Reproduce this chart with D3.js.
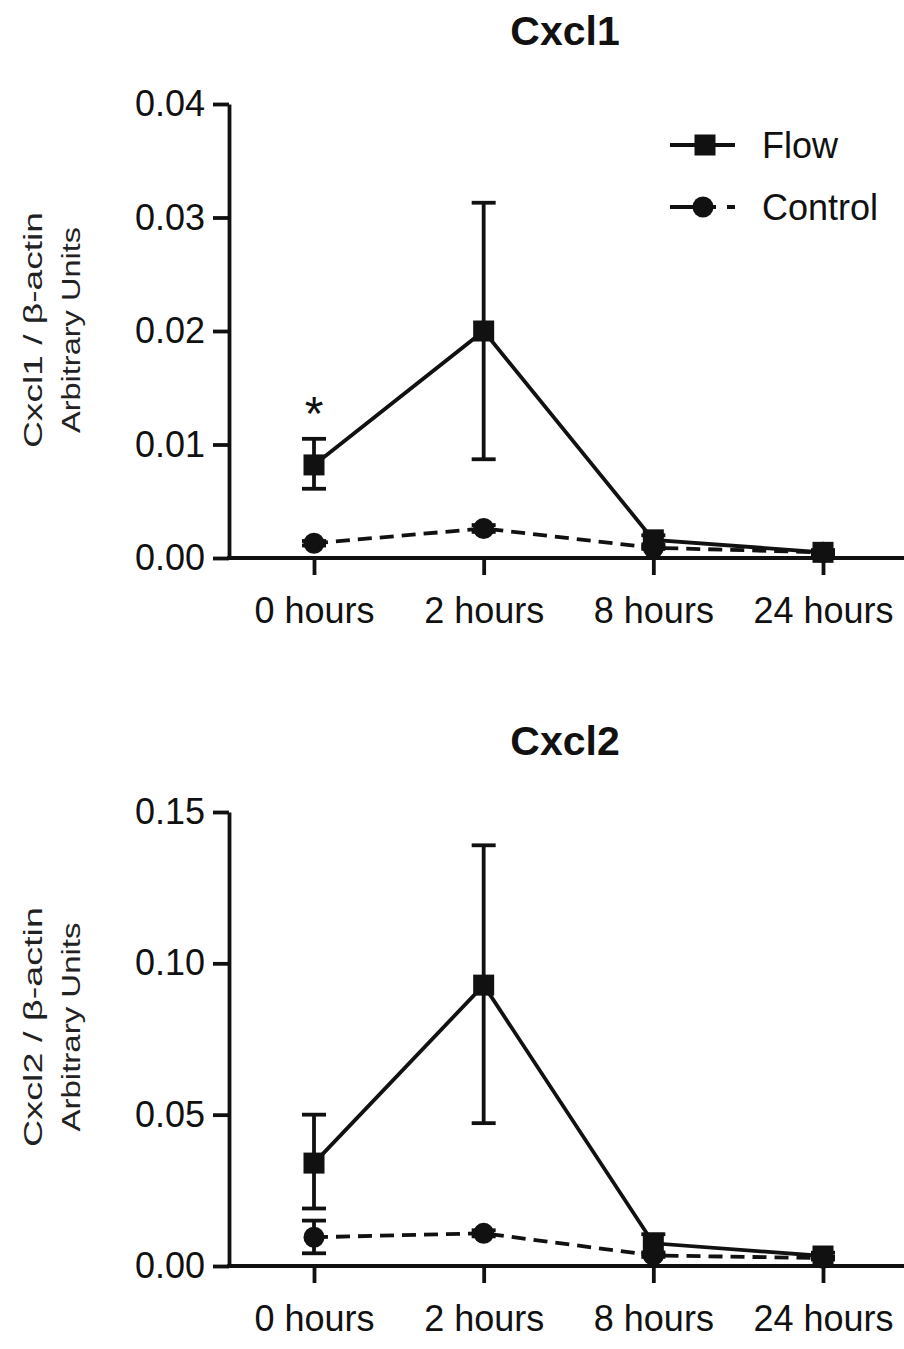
<!DOCTYPE html>
<html>
<head>
<meta charset="utf-8">
<script src="https://cdn.jsdelivr.net/npm/d3@7"></script>
<style>
  body { margin: 0; background: #fff; }
  text { font-family: "Liberation Sans", Arial, sans-serif; fill: #111; }
</style>
</head>
<body>
<div id="chart"></div>
<script>
// categories shared by both panels
const hours = ['0 hours', '2 hours', '8 hours', '24 hours'];

// Cxcl1 panel
const cxcl1Flow = [0.0082, 0.0200, 0.0016, 0.0005];
const cxcl1FlowLo = [0.0061, 0.0087, 0.0012, 0.0003];
const cxcl1FlowHi = [0.0105, 0.0313, 0.0020, 0.0007];
const cxcl1Ctrl = [0.0013, 0.0026, 0.0009, 0.0005];
const cxcl1CtrlLo = [0.0011, 0.0023, 0.0008, 0.0004];
const cxcl1CtrlHi = [0.0015, 0.0029, 0.0010, 0.0006];
const cxcl1Ticks = [0, 0.01, 0.02, 0.03, 0.04];

// Cxcl2 panel
const cxcl2Flow = [0.034, 0.0928, 0.0075, 0.0033];
const cxcl2FlowLo = [0.019, 0.0472, 0.0045, 0.0022];
const cxcl2FlowHi = [0.050, 0.139, 0.0105, 0.0044];
const cxcl2Ctrl = [0.0095, 0.0108, 0.0035, 0.0026];
const cxcl2CtrlLo = [0.0042, 0.0098, 0.0030, 0.0022];
const cxcl2CtrlHi = [0.0150, 0.0118, 0.0040, 0.0030];
const cxcl2Ticks = [0, 0.05, 0.10, 0.15];

const width = 904, height = 1349;
const sw = 3.8; // stroke width used everywhere
const svg = d3.select('#chart').append('svg')
  .attr('width', width)
  .attr('height', height);

const x = d3.scalePoint().domain(hours).range([314, 823]);
const axisLeftX = 229;

function panel(opts) {
  const g = svg.append('g');
  const y = d3.scaleLinear().domain([0, opts.max]).range([opts.bottom, opts.top]);

  // title
  g.append('text')
    .attr('x', 565).attr('y', opts.titleY)
    .attr('text-anchor', 'middle')
    .style('font-size', '41px').style('font-weight', 'bold')
    .text(opts.title);

  // y axis label, two lines
  g.append('text')
    .attr('transform', `translate(42,${opts.labelY}) rotate(-90)`)
    .attr('text-anchor', 'middle')
    .attr('textLength', opts.len1).attr('lengthAdjust', 'spacingAndGlyphs')
    .style('font-size', '25px').style('fill', '#222')
    .text(opts.title + ' / β-actin');
  g.append('text')
    .attr('transform', `translate(80,${opts.labelY}) rotate(-90)`)
    .attr('text-anchor', 'middle')
    .attr('textLength', opts.len2).attr('lengthAdjust', 'spacingAndGlyphs')
    .style('font-size', '25px').style('fill', '#222')
    .text('Arbitrary Units');

  // y axis
  const yAxis = g.append('g')
    .attr('transform', `translate(${axisLeftX},0)`)
    .call(d3.axisLeft(y).tickValues(opts.ticks).tickFormat(d3.format('.2f'))
      .tickSize(16).tickSizeOuter(0).tickPadding(8));
  yAxis.selectAll('path, line').attr('stroke', '#111').attr('stroke-width', sw);
  yAxis.selectAll('text').style('font-size', '36px').style('font-family', '"Liberation Sans", Arial, sans-serif').attr('fill', '#1a1a1a');

  // x axis
  g.append('line')
    .attr('x1', axisLeftX - sw / 2).attr('x2', width)
    .attr('y1', opts.bottom).attr('y2', opts.bottom)
    .attr('stroke', '#111').attr('stroke-width', sw);
  const xAxis = g.append('g')
    .attr('transform', `translate(0,${opts.bottom})`)
    .call(d3.axisBottom(x).tickSize(17).tickPadding(22));
  xAxis.select('.domain').remove();
  xAxis.selectAll('line').attr('stroke', '#111').attr('stroke-width', sw);
  xAxis.selectAll('text').style('font-size', '36px').style('font-family', '"Liberation Sans", Arial, sans-serif').attr('fill', '#1a1a1a');

  const line = d3.line().x((d, i) => x(hours[i])).y(d => y(d));

  // control (dashed)
  g.append('path').datum(opts.ctrl)
    .attr('d', line).attr('fill', 'none')
    .attr('stroke', '#111').attr('stroke-width', sw)
    .attr('stroke-dasharray', '14,8');
  // flow (solid)
  g.append('path').datum(opts.flow)
    .attr('d', line).attr('fill', 'none')
    .attr('stroke', '#111').attr('stroke-width', sw);

  // error bars
  const bars = [];
  hours.forEach((h, i) => {
    bars.push({ h, lo: opts.flowLo[i], hi: opts.flowHi[i] });
    bars.push({ h, lo: opts.ctrlLo[i], hi: opts.ctrlHi[i] });
  });
  const eb = g.append('g').attr('stroke', '#111').attr('stroke-width', sw);
  eb.selectAll('.ev').data(bars).enter().append('line')
    .attr('x1', d => x(d.h)).attr('x2', d => x(d.h))
    .attr('y1', d => y(d.lo)).attr('y2', d => y(d.hi));
  eb.selectAll('.cap').data(bars.flatMap(d => [{ h: d.h, v: d.lo }, { h: d.h, v: d.hi }]))
    .enter().append('line')
    .attr('x1', d => x(d.h) - 12).attr('x2', d => x(d.h) + 12)
    .attr('y1', d => y(d.v)).attr('y2', d => y(d.v));

  // markers
  g.selectAll('.ctrlpt').data(opts.ctrl).enter().append('circle')
    .attr('cx', (d, i) => x(hours[i])).attr('cy', d => y(d))
    .attr('r', 10.5).attr('fill', '#111');
  g.selectAll('.flowpt').data(opts.flow).enter().append('rect')
    .attr('x', (d, i) => x(hours[i]) - 10.5).attr('y', d => y(d) - 10.5)
    .attr('width', 21).attr('height', 21).attr('fill', '#111');

  return { g, y };
}

const p1 = panel({
  title: 'Cxcl1', titleY: 45, max: 0.04, top: 104, bottom: 558, ticks: cxcl1Ticks,
  labelY: 330, len1: 236, len2: 206,
  flow: cxcl1Flow, flowLo: cxcl1FlowLo, flowHi: cxcl1FlowHi,
  ctrl: cxcl1Ctrl, ctrlLo: cxcl1CtrlLo, ctrlHi: cxcl1CtrlHi
});

panel({
  title: 'Cxcl2', titleY: 755, max: 0.15, top: 812, bottom: 1266, ticks: cxcl2Ticks,
  labelY: 1027, len1: 240, len2: 209,
  flow: cxcl2Flow, flowLo: cxcl2FlowLo, flowHi: cxcl2FlowHi,
  ctrl: cxcl2Ctrl, ctrlLo: cxcl2CtrlLo, ctrlHi: cxcl2CtrlHi
});

// significance marker above Cxcl1 0 hours
p1.g.append('text')
  .attr('x', x(hours[0])).attr('y', p1.y(cxcl1FlowHi[0]) - 9)
  .attr('text-anchor', 'middle')
  .style('font-size', '48px')
  .text('*');

// legend
const legend = svg.append('g');
legend.append('line').attr('x1', 670).attr('x2', 735).attr('y1', 145).attr('y2', 145)
  .attr('stroke', '#111').attr('stroke-width', sw);
legend.append('rect').attr('x', 694.5).attr('y', 134.5).attr('width', 21).attr('height', 21).attr('fill', '#111');
legend.append('text').attr('x', 762).attr('y', 145).attr('dy', '0.35em')
  .style('font-size', '36px').text('Flow');
legend.append('line').attr('x1', 670).attr('x2', 735).attr('y1', 207).attr('y2', 207)
  .attr('stroke', '#111').attr('stroke-width', sw)
  .attr('stroke-dasharray', '46,11,12');
legend.append('circle').attr('cx', 703).attr('cy', 207).attr('r', 10.5).attr('fill', '#111');
legend.append('text').attr('x', 762).attr('y', 207).attr('dy', '0.35em')
  .style('font-size', '36px').text('Control');
</script>
</body>
</html>
